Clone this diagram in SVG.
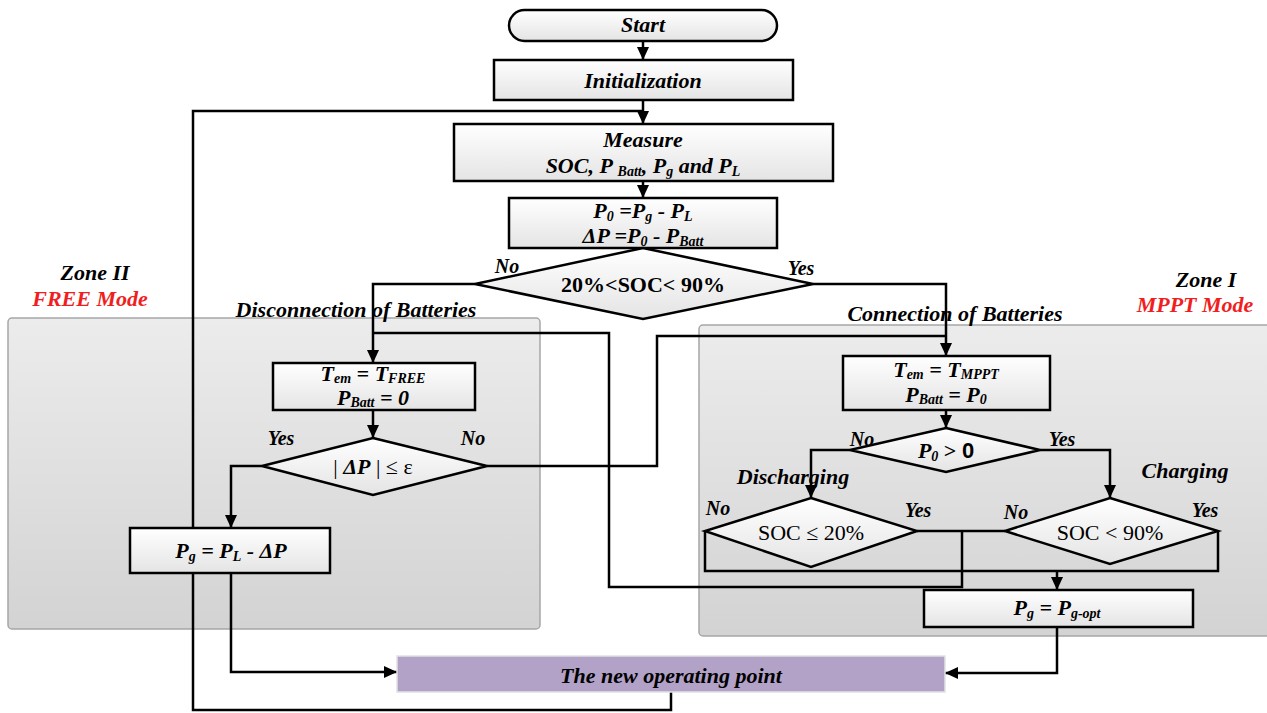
<svg xmlns="http://www.w3.org/2000/svg" width="1267" height="713" viewBox="0 0 1267 713">
<defs>
<linearGradient id="gBox" x1="0" y1="0" x2="0" y2="1"><stop offset="0" stop-color="#ffffff"/><stop offset="1" stop-color="#e4e4e4"/></linearGradient>
<linearGradient id="gZone" x1="0" y1="0" x2="0" y2="1"><stop offset="0" stop-color="#ececec"/><stop offset="1" stop-color="#d3d3d3"/></linearGradient>
<marker id="arr" markerUnits="userSpaceOnUse" markerWidth="14" markerHeight="12" refX="13" refY="6" orient="auto"><path d="M0,0 L13,6 L0,12 z" fill="#000"/></marker>
<style>
.box{fill:url(#gBox);stroke:#000;stroke-width:2.5}
.zone{fill:url(#gZone);stroke:#a6a6a6;stroke-width:1.5}
.ln{fill:none;stroke:#000;stroke-width:2.5}
.a{marker-end:url(#arr)}
.t{font-family:"Liberation Serif",serif;font-weight:bold;font-style:italic;font-size:22px;fill:#000;text-anchor:middle}
.u{font-family:"Liberation Serif",serif;font-size:22px;fill:#000;text-anchor:middle}
.yn{font-family:"Liberation Serif",serif;font-weight:bold;font-style:italic;font-size:20px;fill:#000;text-anchor:middle}
.red{fill:#f01e1e}
.s{font-size:14px}
</style>
</defs>
<g id="zones">
<rect id="zone2" class="zone" x="8" y="318" width="532" height="311" rx="4"/>
<rect id="zone1" class="zone" x="699" y="325" width="580" height="311" rx="4"/>
</g>
<g id="labels">
<text class="t" x="95" y="280">Zone II</text>
<text class="t red" x="90" y="306">FREE Mode</text>
<text class="t" x="1206" y="287">Zone I</text>
<text class="t red" x="1195" y="312">MPPT Mode</text>
<text class="t" x="356" y="317">Disconnection of Batteries</text>
<text class="t" x="955" y="321">Connection of Batteries</text>
<text class="t" x="793" y="484">Discharging</text>
<text class="t" x="1185" y="478">Charging</text>
<text class="yn" x="507" y="273">No</text>
<text class="yn" x="801" y="275">Yes</text>
<text class="yn" x="281" y="445">Yes</text>
<text class="yn" x="473" y="445">No</text>
<text class="yn" x="862" y="446">No</text>
<text class="yn" x="1062" y="446">Yes</text>
<text class="yn" x="718" y="515">No</text>
<text class="yn" x="918" y="517">Yes</text>
<text class="yn" x="1016" y="519">No</text>
<text class="yn" x="1205" y="517">Yes</text>
</g>
<g id="connectors">
<path class="ln a" d="M643,41 V60"/>
<path class="ln a" d="M643,100 V124"/>
<path class="ln" d="M671,692 V710 H193 V111 H643"/>
<path class="ln a" d="M643,181 V198"/>
<path class="ln a" d="M475,284 H373 V363"/>
<path class="ln a" d="M813,284 H946 V356"/>
<path class="ln a" d="M373,410 V438"/>
<path class="ln a" d="M262,466 H231 V528"/>
<path class="ln" d="M487,466 H657 V336 H946"/>
<path class="ln a" d="M231,573 V672 H397"/>
<path class="ln a" d="M946,410 V428"/>
<path class="ln a" d="M850,450 H811 V498"/>
<path class="ln a" d="M1040,450 H1110 V498"/>
<path class="ln" d="M917,531 H1005"/>
<path class="ln" d="M962,531 V587 H609 V333 H373"/>
<path class="ln" d="M705,531 V571 H1218 V531"/>
<path class="ln a" d="M1057,571 V590"/>
<path class="ln a" d="M1057,627 V673 H945"/>
</g>
<g id="start">
<rect class="box" x="509" y="10" width="268" height="31" rx="15.5"/>
<text class="t" x="643" y="32">Start</text>
</g>
<g id="init">
<rect class="box" x="494" y="60" width="299" height="40"/>
<text class="t" x="643" y="88">Initialization</text>
</g>
<g id="measure">
<rect class="box" x="454" y="124" width="379" height="57"/>
<text class="t" x="643" y="147">Measure</text>
<text class="t" x="643" y="173">SOC, P <tspan class="s" dy="3">Batt</tspan><tspan dy="-3">, P</tspan><tspan class="s" dy="3">g</tspan><tspan dy="-3"> and P</tspan><tspan class="s" dy="3">L</tspan></text>
</g>
<g id="calc">
<rect class="box" x="509" y="198" width="268" height="50"/>
<text class="t" x="643" y="218">P<tspan class="s" dy="3">0</tspan><tspan dy="-3"> =P</tspan><tspan class="s" dy="3">g</tspan><tspan dy="-3"> - P</tspan><tspan class="s" dy="3">L</tspan></text>
<text class="t" x="643" y="243">ΔP =P<tspan class="s" dy="3">0</tspan><tspan dy="-3"> - P</tspan><tspan class="s" dy="3">Batt</tspan></text>
</g>
<g id="socRange">
<polygon class="box" points="643,248 813,284 643,319 475,284"/>
<text class="u" x="643" y="292" font-weight="bold">20%&lt;SOC&lt; 90%</text>
</g>
<g id="tfree">
<rect class="box" x="273" y="363" width="202" height="47"/>
<text class="t" x="373" y="381">T<tspan class="s" dy="2">em</tspan><tspan dy="-2"> = T</tspan><tspan class="s" dy="2">FREE</tspan></text>
<text class="t" x="373" y="405">P<tspan class="s" dy="2">Batt</tspan><tspan dy="-2"> = 0</tspan></text>
</g>
<g id="deltaP">
<polygon class="box" points="373,438 487,466 373,495 262,466"/>
<text class="u" x="373" y="474">| <tspan font-weight="bold" font-style="italic">ΔP</tspan> | ≤ ε</text>
</g>
<g id="pgFree">
<rect class="box" x="130" y="528" width="200" height="45"/>
<text class="t" x="231" y="558">P<tspan class="s" dy="3">g</tspan><tspan dy="-3"> = P</tspan><tspan class="s" dy="3">L</tspan><tspan dy="-3"> - ΔP</tspan></text>
</g>
<g id="tmppt">
<rect class="box" x="843" y="356" width="207" height="54"/>
<text class="t" x="946" y="377">T<tspan class="s" dy="2">em</tspan><tspan dy="-2"> = T</tspan><tspan class="s" dy="2">MPPT</tspan></text>
<text class="t" x="946" y="402">P<tspan class="s" dy="2">Batt</tspan><tspan dy="-2"> = P</tspan><tspan class="s" dy="2">0</tspan></text>
</g>
<g id="p0pos">
<polygon class="box" points="946,428 1040,450 946,472 850,450"/>
<text class="t" x="946" y="458">P<tspan class="s" dy="3">0</tspan><tspan dy="-3" font-style="normal"> &gt; </tspan><tspan font-family="Liberation Sans, sans-serif" font-style="normal">0</tspan></text>
</g>
<g id="socLow">
<polygon class="box" points="811,498 917,531 811,567 705,531"/>
<text class="u" x="811" y="540">SOC ≤ 20%</text>
</g>
<g id="socHigh">
<polygon class="box" points="1110,498 1218,531 1110,564 1005,531"/>
<text class="u" x="1110" y="540">SOC &lt; 90%</text>
</g>
<g id="pgOpt">
<rect class="box" x="924" y="590" width="269" height="37"/>
<text class="t" x="1057" y="615">P<tspan class="s" dy="3">g</tspan><tspan dy="-3"> = P</tspan><tspan class="s" dy="3">g-opt</tspan></text>
</g>
<g id="newPoint">
<rect x="397" y="656" width="548" height="36" fill="#b3a2c8" stroke="#e2e2e2" stroke-width="1.5"/>
<text class="t" x="671" y="683" font-size="24">The new operating point</text>
</g>
</svg>
